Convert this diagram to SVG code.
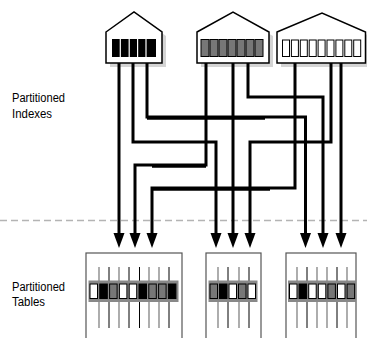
<svg xmlns="http://www.w3.org/2000/svg" width="367" height="338" viewBox="0 0 367 338">
<style>
.lbl{font-family:"Liberation Sans",Arial,sans-serif;font-size:12px;fill:#000}
.house{fill:#fff;stroke:#000;stroke-width:1.5;stroke-linejoin:miter}
.shadow{fill:#d4d4d4}
.conn{fill:none;stroke:#000;stroke-width:3;stroke-linejoin:miter}
.thick{fill:none;stroke:#000;stroke-width:2}
.tbl{fill:#fff;stroke:#555;stroke-width:1.2}
.vb{stroke:#000;stroke-width:1}
.vg{stroke:#777;stroke-width:1.2}
.strip{fill:#888}
.cw{fill:#fff;stroke:#000;stroke-width:1}
.ck{fill:#000;stroke:#000;stroke-width:1}
.cg{fill:#777;stroke:#000;stroke-width:1}
</style>
<defs>
<marker id="arr" markerUnits="userSpaceOnUse" markerWidth="16" markerHeight="12" refX="1" refY="5.5" orient="auto" viewBox="0 0 16 11">
<path d="M0,0 L15,5.5 L0,11 Z" fill="#000"/>
</marker>
</defs>

<!-- labels -->
<g id="label-indexes">
<text class="lbl" x="12" y="102" textLength="53" lengthAdjust="spacingAndGlyphs">Partitioned</text>
<text class="lbl" x="12" y="118" textLength="40" lengthAdjust="spacingAndGlyphs">Indexes</text>
</g>
<g id="label-tables">
<text class="lbl" x="12" y="291" textLength="53" lengthAdjust="spacingAndGlyphs">Partitioned</text>
<text class="lbl" x="12" y="306" textLength="33" lengthAdjust="spacingAndGlyphs">Tables</text>
</g>

<!-- divider -->
<line x1="0" y1="220.5" x2="367" y2="220.5" stroke="#b4b4b4" stroke-width="1.5" stroke-dasharray="7 4"/>

<!-- index nodes -->
<g id="index1">
<polygon class="shadow" points="110,36 138,16 166,36 166,67 110,67"/>
<polygon class="house" points="106,32 134,12 162,32 162,63 106,63"/>
<rect x="112" y="39" width="44" height="18" fill="#000"/>
<g stroke="#fff" stroke-width="1.2">
<line x1="120.3" y1="39" x2="120.3" y2="57"/>
<line x1="129.2" y1="39" x2="129.2" y2="57"/>
<line x1="137.6" y1="39" x2="137.6" y2="57"/>
<line x1="146" y1="39" x2="146" y2="57"/>
</g>
</g>
<g id="index2">
<polygon class="shadow" points="201,36 237,16 273,36 273,67 201,67"/>
<polygon class="house" points="197,32 233,12 269,32 269,63 197,63"/>
<rect class="cg" x="201" y="39.5" width="8" height="17"/>
<rect class="cg" x="210" y="39.5" width="8" height="17"/>
<rect class="cg" x="219" y="39.5" width="8" height="17"/>
<rect class="cg" x="228" y="39.5" width="8" height="17"/>
<rect class="cg" x="237" y="39.5" width="8" height="17"/>
<rect class="cg" x="246" y="39.5" width="8" height="17"/>
<rect class="cg" x="255" y="39.5" width="8" height="17"/>
</g>
<g id="index3">
<polygon class="shadow" points="281,36 326,17 370,36 370,67 281,67"/>
<polygon class="house" points="277,32 322,13 365.5,32 365.5,63 277,63"/>
<rect class="cw" x="282.5" y="40" width="7" height="16.5"/>
<rect class="cw" x="291.4" y="40" width="7" height="16.5"/>
<rect class="cw" x="300.3" y="40" width="7" height="16.5"/>
<rect class="cw" x="309.2" y="40" width="7" height="16.5"/>
<rect class="cw" x="318.1" y="40" width="7" height="16.5"/>
<rect class="cw" x="327" y="40" width="7" height="16.5"/>
<rect class="cw" x="335.9" y="40" width="7" height="16.5"/>
<rect class="cw" x="344.8" y="40" width="7" height="16.5"/>
<rect class="cw" x="353.7" y="40" width="7" height="16.5"/>
</g>

<!-- table nodes -->
<g id="table1">
<rect class="tbl" x="86" y="253" width="96" height="95"/>
<line class="vg" x1="99" y1="267" x2="99" y2="328"/>
<line class="vb" x1="109" y1="267" x2="109" y2="328"/>
<line class="vg" x1="119" y1="267" x2="119" y2="328"/>
<line class="vb" x1="129" y1="267" x2="129" y2="328"/>
<line class="vb" x1="139.5" y1="267" x2="139.5" y2="328"/>
<line class="vg" x1="149" y1="267" x2="149" y2="328"/>
<line class="vg" x1="159" y1="267" x2="159" y2="328"/>
<line class="vb" x1="169" y1="267" x2="169" y2="328"/>
<rect class="strip" x="88.5" y="280.5" width="90" height="21.5"/>
<rect class="cw" x="90" y="284" width="7.5" height="14.5"/>
<rect class="ck" x="99.8" y="284" width="7.5" height="14.5"/>
<rect class="cg" x="109.6" y="284" width="7.5" height="14.5"/>
<rect class="cw" x="119.4" y="284" width="7.5" height="14.5"/>
<rect class="cw" x="129.2" y="284" width="7.5" height="14.5"/>
<rect class="ck" x="139" y="284" width="7.5" height="14.5"/>
<rect class="cg" x="148.8" y="284" width="7.5" height="14.5"/>
<rect class="cg" x="158.6" y="284" width="7.5" height="14.5"/>
<rect class="ck" x="168.4" y="284" width="7.5" height="14.5"/>
</g>
<g id="table2">
<rect class="tbl" x="206" y="253" width="55" height="95"/>
<line class="vg" x1="218" y1="267" x2="218" y2="328"/>
<line class="vb" x1="228" y1="267" x2="228" y2="328"/>
<line class="vg" x1="239" y1="267" x2="239" y2="328"/>
<line class="vb" x1="249" y1="267" x2="249" y2="328"/>
<rect class="strip" x="208.5" y="280.5" width="49" height="21.5"/>
<rect class="cg" x="210" y="284" width="7.5" height="14.5"/>
<rect class="ck" x="219.5" y="284" width="7.5" height="14.5"/>
<rect class="cw" x="229" y="284" width="7.5" height="14.5"/>
<rect class="cg" x="238.5" y="284" width="7.5" height="14.5"/>
<rect class="cw" x="248" y="284" width="7.5" height="14.5"/>
</g>
<g id="table3">
<rect class="tbl" x="286" y="253" width="70" height="95"/>
<line class="vg" x1="297" y1="267" x2="297" y2="328"/>
<line class="vb" x1="307" y1="267" x2="307" y2="328"/>
<line class="vg" x1="317" y1="267" x2="317" y2="328"/>
<line class="vg" x1="327" y1="267" x2="327" y2="328"/>
<line class="vb" x1="337" y1="267" x2="337" y2="328"/>
<line class="vg" x1="347" y1="267" x2="347" y2="328"/>
<rect class="strip" x="288" y="280.5" width="68" height="21.5"/>
<rect class="cw" x="289.5" y="284" width="7.5" height="14.5"/>
<rect class="ck" x="299.1" y="284" width="7.5" height="14.5"/>
<rect class="cw" x="308.7" y="284" width="7.5" height="14.5"/>
<rect class="cw" x="318.3" y="284" width="7.5" height="14.5"/>
<rect class="cg" x="327.9" y="284" width="7.5" height="14.5"/>
<rect class="cw" x="337.5" y="284" width="7.5" height="14.5"/>
<rect class="cg" x="347.1" y="284" width="7.5" height="14.5"/>
</g>

<!-- connectors -->
<g id="connectors">
<path class="conn" d="M119,63 V234" marker-end="url(#arr)"/>
<path class="conn" d="M133,63 V142 H216 V234" marker-end="url(#arr)"/>
<path class="conn" d="M147,63 V117 H305.5 V234" marker-end="url(#arr)"/>
<path class="conn" d="M206,63 V165 H135 V234" marker-end="url(#arr)"/>
<path class="conn" d="M233,63 V234" marker-end="url(#arr)"/>
<path class="conn" d="M248,63 V97 H323 V234" marker-end="url(#arr)"/>
<path class="conn" d="M295,63 V188 H152 V234" marker-end="url(#arr)"/>
<path class="conn" d="M331,63 V142 H250 V234" marker-end="url(#arr)"/>
<path class="conn" d="M341,63 V234" stroke-width="4" marker-end="url(#arr)"/>
<line class="thick" x1="147" y1="118.8" x2="265" y2="118.8"/>
<line class="thick" x1="152" y1="166.8" x2="206" y2="166.8"/>
<line class="thick" x1="151" y1="189.8" x2="270" y2="189.8"/>
</g>
</svg>
